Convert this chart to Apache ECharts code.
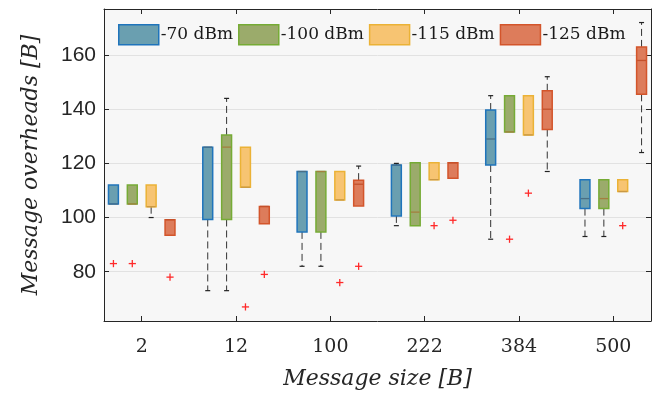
<!DOCTYPE html>
<html><head><meta charset="utf-8">
<script src="https://cdn.jsdelivr.net/npm/echarts@6/dist/echarts.min.js"></script>
<style>html,body{margin:0;padding:0;background:#fff}#c{width:657px;height:396px}</style>
</head><body><div id="c"></div>
<script>
const categories = ['2','12','100','222','384','500'];
const seriesNames = ['-70 dBm','-100 dBm','-115 dBm','-125 dBm'];
const yTicks = [80,100,120,140,160];
// each box: [lower whisker, q1, median, q3, upper whisker]
const box70  = [[105,105,105,112,112],[73,99.3,126,126,126],[82,94.7,117,117,117],[97,100.6,119.4,119.4,120],[92,119.4,129,139.7,145],[93,103.3,107,114,114]];
const box100 = [[105,105,105,112,112],[73,99.3,126,130.5,144],[82,94.7,117,117,117],[97,97,102,120.2,120.2],[131.6,131.6,131.6,145,145],[93,103.3,107,114,114]];
const box115 = [[100,104,104,112,112],[111.2,111.2,111.2,126,126],[106.5,106.5,106.5,117,117],[114,114,114,120.2,120.2],[130.5,130.5,130.5,145,145],[109.6,109.6,109.6,114,114]];
const box125 = [[93.5,93.5,99.2,99.2,99.2],[97.7,97.7,104.1,104.1,104.1],[104.3,104.3,112.3,113.8,119],[114.5,114.5,120.2,120.2,120.2],[117,132.5,140,146.8,152],[124,145.5,158,163,172]];
// outliers: [category index, value]
const out70  = [[0,83]];
const out100 = [[0,83],[4,92]];
const out115 = [[1,67],[2,76],[3,97],[4,109],[5,97]];
const out125 = [[0,78],[1,79],[2,82],[3,99]];

const boxes = [box70, box100, box115, box125];
const outs = [out70, out100, out115, out125];
const offsets = [-0.3, -0.1, 0.1, 0.3];
const fills   = ['#6a9fb0', '#9bab6b', '#f7c472', '#dd7c5b'];
const borders = ['#1f74bb', '#76ab35', '#ebb236', '#d3552b'];
const medians = ['#4a6f85', '#a47f3f', '#c99845', '#c4512c'];
const catPos = categories.map((c, i) => i + 1);
const textColor = '#262626';

function boxRender(fill, border, med) {
  return function (params, api) {
    const x = api.value(0);
    const v = [1, 2, 3, 4, 5].map(i => api.value(i));
    const c = v.map(val => api.coord([x, val]));
    const cx = c[0][0];
    const hw = api.size([0.105, 0])[0] / 2;
    const cap = 2.5;
    const ws = { stroke: '#333333', lineWidth: 1, lineDash: [7, 4] };
    const cs = { stroke: '#222222', lineWidth: 1.2 };
    const ch = [];
    if (v[4] - v[3] > 0.05) {
      ch.push({ type: 'line', shape: { x1: cx, y1: c[3][1], x2: cx, y2: c[4][1] }, style: ws });
      ch.push({ type: 'line', shape: { x1: cx - cap, y1: c[4][1], x2: cx + cap, y2: c[4][1] }, style: cs });
    }
    if (v[1] - v[0] > 0.05) {
      ch.push({ type: 'line', shape: { x1: cx, y1: c[1][1], x2: cx, y2: c[0][1] }, style: ws });
      ch.push({ type: 'line', shape: { x1: cx - cap, y1: c[0][1], x2: cx + cap, y2: c[0][1] }, style: cs });
    }
    ch.push({ type: 'rect', shape: { x: cx - hw, y: c[3][1], width: 2 * hw, height: c[1][1] - c[3][1] },
      style: { fill: fill, stroke: border, lineWidth: 1.5 } });
    ch.push({ type: 'line', shape: { x1: cx - hw + 0.5, y1: c[2][1], x2: cx + hw - 0.5, y2: c[2][1] },
      style: { stroke: med, lineWidth: 1.3 } });
    return { type: 'group', children: ch };
  };
}

function outRender(params, api) {
  const p = api.coord([api.value(0), api.value(1)]);
  const a = 3.6;
  const st = { stroke: '#ff2a2a', lineWidth: 1.3 };
  return { type: 'group', children: [
    { type: 'line', shape: { x1: p[0] - a, y1: p[1], x2: p[0] + a, y2: p[1] }, style: st },
    { type: 'line', shape: { x1: p[0], y1: p[1] - a, x2: p[0], y2: p[1] + a }, style: st }
  ] };
}

const series = [];
seriesNames.forEach((name, s) => {
  series.push({
    type: 'custom', name: name, xAxisIndex: 0, yAxisIndex: 0, z: 3,
    itemStyle: { color: fills[s], borderColor: borders[s] },
    data: boxes[s].map((b, i) => [catPos[i] + offsets[s]].concat(b)),
    renderItem: boxRender(fills[s], borders[s], medians[s])
  });
});
seriesNames.forEach((name, s) => {
  series.push({
    type: 'custom', name: 'outliers ' + name, xAxisIndex: 0, yAxisIndex: 0, z: 4,
    data: outs[s].map(o => [catPos[o[0]] + offsets[s], o[1]]),
    renderItem: outRender
  });
});

const frameLine = { show: true, onZero: false, lineStyle: { color: textColor, width: 1 } };
const tickX = { show: true, inside: true, length: 5, customValues: catPos, lineStyle: { color: textColor, width: 1 } };
const tickY = { show: true, inside: true, length: 5, customValues: yTicks, lineStyle: { color: textColor, width: 1 } };

const option = {
  backgroundColor: '#ffffff',
  animation: false,
  grid: { left: 104, right: 6, top: 9, bottom: 75, show: true, backgroundColor: '#f7f7f7', borderWidth: 0 },
  legend: {
    left: 118, top: 24, padding: 0, itemWidth: 40, itemHeight: 20, itemGap: 5, icon: 'rect',
    textStyle: { fontFamily: 'DejaVu Serif', fontSize: 17, color: '#1a1a1a', padding: [0, 0, 0, -3] },
    data: seriesNames.map((n, s) => ({ name: n, itemStyle: { color: fills[s], borderColor: borders[s], borderWidth: 1.5 } }))
  },
  xAxis: [
    { type: 'value', min: 0.6, max: 6.4, position: 'bottom', axisLine: frameLine, axisTick: tickX,
      axisLabel: { customValues: catPos, formatter: v => categories[Math.round(v) - 1], fontFamily: 'DejaVu Serif', fontSize: 19, color: textColor, margin: 17 },
      splitLine: { show: false },
      name: 'Message size [B]', nameLocation: 'middle', nameGap: 47,
      nameTextStyle: { fontFamily: 'DejaVu Serif', fontStyle: 'italic', fontSize: 22, color: textColor } },
    { type: 'value', min: 0.6, max: 6.4, position: 'top', axisLine: frameLine, axisTick: tickX,
      axisLabel: { show: false }, splitLine: { show: false } }
  ],
  yAxis: [
    { type: 'value', min: 61.8, max: 177, position: 'left', axisLine: frameLine, axisTick: tickY,
      axisLabel: { customValues: yTicks, fontFamily: 'Liberation Sans', fontSize: 21, color: textColor, margin: 8 },
      splitLine: { show: true, lineStyle: { color: '#e2e2e2', width: 1 } },
      name: 'Message overheads [B]', nameLocation: 'middle', nameGap: 62,
      nameTextStyle: { fontFamily: 'DejaVu Serif', fontStyle: 'italic', fontSize: 22, color: textColor } },
    { type: 'value', min: 61.8, max: 177, position: 'right', axisLine: frameLine, axisTick: tickY,
      axisLabel: { show: false }, splitLine: { show: false } }
  ],
  series: series
};
const chart = echarts.init(document.getElementById('c'), null, { renderer: 'canvas' });
chart.setOption(option);
</script>
</body></html>
